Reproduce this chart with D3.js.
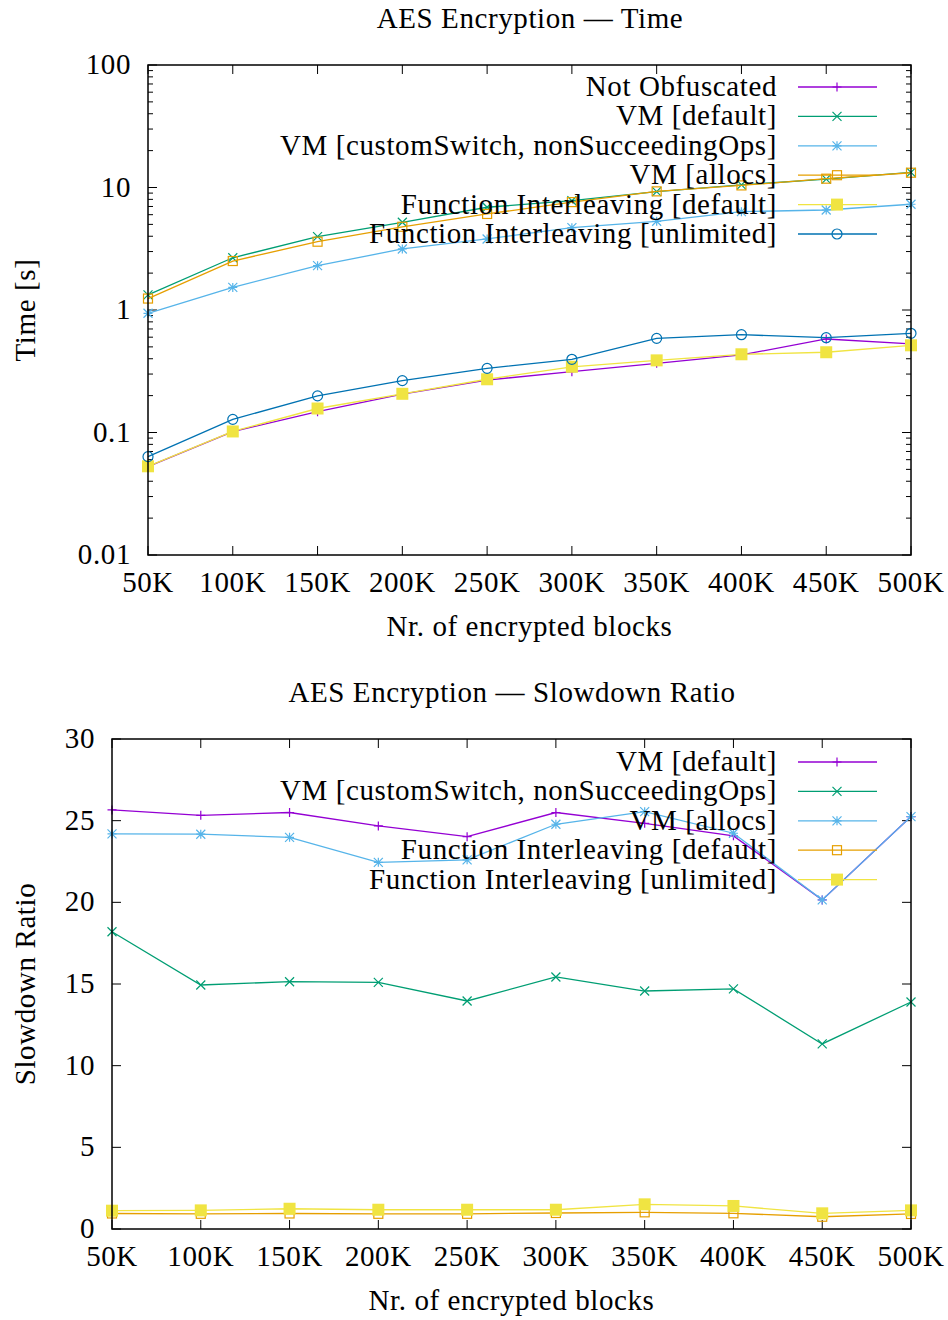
<!DOCTYPE html>
<html><head><meta charset="utf-8">
<script src="https://cdn.jsdelivr.net/npm/d3@7"></script>
<style>body{margin:0;background:#fff}text{font-family:"Liberation Serif",serif;fill:#000;letter-spacing:0.6px}</style>
</head><body><svg id="c" width="948" height="1320"></svg>
<script>
const categories = ["50K","100K","150K","200K","250K","300K","350K","400K","450K","500K"];
// Top chart: time in seconds
const timeNotObf   = [0.0526,0.1016,0.148,0.206,0.268,0.314,0.367,0.43,0.58,0.53];
const timeVmDef    = [1.33,2.67,3.97,5.2,6.9,7.8,9.25,10.5,11.7,13.3];
const timeVmCustom = [0.94,1.53,2.3,3.15,3.8,4.7,5.3,6.35,6.55,7.3];
const timeVmAllocs = [1.24,2.51,3.61,4.78,6.08,7.6,9.3,10.4,11.8,13.2];
const timeFiDef    = [0.053,0.102,0.157,0.207,0.272,0.344,0.388,0.435,0.452,0.515];
const timeFiUnl    = [0.0635,0.128,0.199,0.265,0.334,0.396,0.587,0.629,0.594,0.645];
const timeTicks = [0.01,0.1,1,10,100];
const timeTickLabels = ["0.01","0.1","1","10","100"];
// Bottom chart: slowdown ratio
const ratioVmDef    = [25.66,25.33,25.5,24.68,24.02,25.5,24.84,24.07,20.15,25.25];
const ratioVmCustom = [18.2,14.94,15.14,15.1,13.96,15.43,14.57,14.7,11.33,13.9];
const ratioVmAllocs = [24.19,24.17,23.98,22.45,22.6,24.78,25.55,24.23,20.15,25.25];
const ratioFiDef    = [0.95,0.93,0.95,0.93,0.93,0.98,1.02,0.96,0.75,0.92];
const ratioFiUnl    = [1.12,1.14,1.24,1.18,1.18,1.18,1.51,1.41,0.96,1.14];
const ratioTicks = [0,5,10,15,20,25,30];

const C = {purple:"#9400d3",green:"#009e73",lblue:"#56b4e9",orange:"#e69f00",yellow:"#f0e442",blue:"#0072b2"};
const svg = d3.select("#c");

function marker(g, type, x, y, color){
  const s = 4.5;
  if(type==="plus"){
    g.append("path").attr("d",`M${x-s},${y}H${x+s}M${x},${y-s}V${y+s}`).attr("stroke",color).attr("stroke-width",1.2).attr("fill","none");
  } else if(type==="cross"){
    g.append("path").attr("d",`M${x-s},${y-s}L${x+s},${y+s}M${x-s},${y+s}L${x+s},${y-s}`).attr("stroke",color).attr("stroke-width",1.2).attr("fill","none");
  } else if(type==="star"){
    g.append("path").attr("d",`M${x-s},${y}H${x+s}M${x},${y-s}V${y+s}M${x-s},${y-s}L${x+s},${y+s}M${x-s},${y+s}L${x+s},${y-s}`).attr("stroke",color).attr("stroke-width",1.2).attr("fill","none");
  } else if(type==="square"){
    g.append("rect").attr("x",x-s).attr("y",y-s).attr("width",2*s).attr("height",2*s).attr("stroke",color).attr("stroke-width",1.2).attr("fill","none");
  } else if(type==="fsquare"){
    g.append("rect").attr("x",x-6).attr("y",y-6).attr("width",12).attr("height",12).attr("fill",color);
  } else if(type==="circle"){
    g.append("circle").attr("cx",x).attr("cy",y).attr("r",5).attr("stroke",color).attr("stroke-width",1.2).attr("fill","none");
  }
}

function drawChart(o){
  const g = svg.append("g");
  const x = d3.scalePoint().domain(categories).range([o.x0,o.x1]);
  const y = o.log ? d3.scaleLog().domain([0.01,100]).range([o.y1,o.y0]) : d3.scaleLinear().domain([0,30]).range([o.y1,o.y0]);
  const tk = g.append("g").attr("stroke","#000").attr("stroke-width",1);
  categories.forEach(c=>{
    tk.append("line").attr("x1",x(c)).attr("x2",x(c)).attr("y1",o.y1).attr("y2",o.y1-9);
    tk.append("line").attr("x1",x(c)).attr("x2",x(c)).attr("y1",o.y0).attr("y2",o.y0+9);
  });
  o.yTicks.forEach(v=>{
    tk.append("line").attr("x1",o.x0).attr("x2",o.x0+9).attr("y1",y(v)).attr("y2",y(v));
    tk.append("line").attr("x1",o.x1).attr("x2",o.x1-9).attr("y1",y(v)).attr("y2",y(v));
  });
  if(o.log){
    for(let d=0.01; d<100; d*=10){
      for(let m=2;m<=9;m++){
        const v=d*m;
        tk.append("line").attr("x1",o.x0).attr("x2",o.x0+5).attr("y1",y(v)).attr("y2",y(v));
        tk.append("line").attr("x1",o.x1).attr("x2",o.x1-5).attr("y1",y(v)).attr("y2",y(v));
      }
    }
  }
  categories.forEach(c=>{
    g.append("text").attr("x",x(c)).attr("y",o.y1+37).attr("text-anchor","middle").attr("font-size",o.fs).text(c);
  });
  o.yTicks.forEach((v,i)=>{
    g.append("text").attr("x",o.x0-17).attr("y",y(v)+9).attr("text-anchor","end").attr("font-size",o.fs).text(o.yLabels[i]);
  });
  g.append("text").attr("x",(o.x0+o.x1)/2).attr("y",o.y1+81).attr("text-anchor","middle").attr("font-size",o.fs).text("Nr. of encrypted blocks");
  g.append("text").attr("transform",`translate(35,${(o.y0+o.y1)/2}) rotate(-90)`).attr("text-anchor","middle").attr("font-size",o.fs).text(o.yTitle);
  g.append("text").attr("x",o.titleX).attr("y",o.y0-37).attr("text-anchor","middle").attr("font-size",o.fs).text(o.title);
  const line = d3.line().x((d,i)=>x(categories[i])).y(d=>y(d));
  o.series.forEach(s=>{
    g.append("path").attr("d",line(s.values)).attr("fill","none").attr("stroke",s.color).attr("stroke-width",1.3);
    s.values.forEach((v,i)=>marker(g,s.marker,x(categories[i]),y(v),s.color));
  });
  o.series.forEach((s,i)=>{
    const ly = o.legY + i*29.4;
    g.append("text").attr("x",777).attr("y",ly+9).attr("text-anchor","end").attr("font-size",o.fs).text(s.name);
    g.append("line").attr("x1",798).attr("x2",877).attr("y1",ly).attr("y2",ly).attr("stroke",s.color).attr("stroke-width",1.3);
    marker(g,s.marker,837,ly,s.color);
  });
  g.append("rect").attr("x",o.x0).attr("y",o.y0).attr("width",o.x1-o.x0).attr("height",o.y1-o.y0).attr("fill","none").attr("stroke","#000").attr("stroke-width",1.5);
}

drawChart({x0:148,x1:911,y0:65,y1:555,log:true,fs:29,
  yTicks:timeTicks,yLabels:timeTickLabels,yTitle:"Time [s]",title:"AES Encryption — Time",titleX:530,legY:87,
  series:[
    {name:"Not Obfuscated",values:timeNotObf,color:C.purple,marker:"plus"},
    {name:"VM [default]",values:timeVmDef,color:C.green,marker:"cross"},
    {name:"VM [customSwitch, nonSucceedingOps]",values:timeVmCustom,color:C.lblue,marker:"star"},
    {name:"VM [allocs]",values:timeVmAllocs,color:C.orange,marker:"square"},
    {name:"Function Interleaving [default]",values:timeFiDef,color:C.yellow,marker:"fsquare"},
    {name:"Function Interleaving [unlimited]",values:timeFiUnl,color:C.blue,marker:"circle"}
  ]});
drawChart({x0:112,x1:911,y0:739,y1:1229,log:false,fs:29,
  yTicks:ratioTicks,yLabels:ratioTicks.map(String),yTitle:"Slowdown Ratio",title:"AES Encryption — Slowdown Ratio",titleX:512,legY:762,
  series:[
    {name:"VM [default]",values:ratioVmDef,color:C.purple,marker:"plus"},
    {name:"VM [customSwitch, nonSucceedingOps]",values:ratioVmCustom,color:C.green,marker:"cross"},
    {name:"VM [allocs]",values:ratioVmAllocs,color:C.lblue,marker:"star"},
    {name:"Function Interleaving [default]",values:ratioFiDef,color:C.orange,marker:"square"},
    {name:"Function Interleaving [unlimited]",values:ratioFiUnl,color:C.yellow,marker:"fsquare"}
  ]});
</script></body></html>
